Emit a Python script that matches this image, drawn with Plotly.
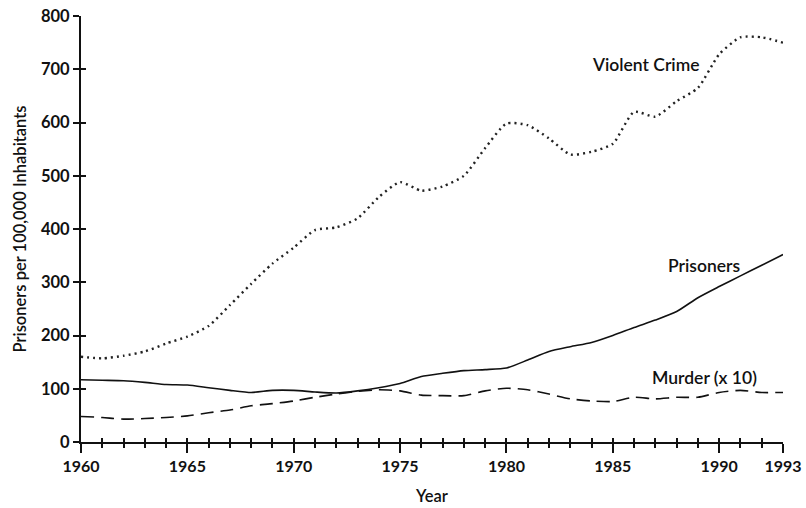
import plotly.graph_objects as go

years = list(range(1960, 1994))
violent_crime = [160, 157, 162, 170, 185, 198, 218, 257, 297, 335, 365, 398, 403, 420, 460, 488,
                 472, 480, 500, 552, 598, 595, 570, 540, 545, 560, 620, 611, 640, 665, 728, 760, 760, 750]
prisoners = [117, 116, 115, 112, 108, 107, 102, 97, 93, 97, 97, 94, 92, 96, 102, 110,
             123, 129, 134, 136, 139, 154, 170, 179, 187, 200, 215, 229, 245, 271, 292, 312, 332, 352]
murder_x10 = [48, 46, 43, 44, 46, 49, 55, 60, 68, 72, 77, 84, 90, 95, 98, 96,
              88, 87, 87, 96, 101, 98, 90, 81, 77, 76, 84, 81, 84, 84, 93, 97, 93, 93]

x_tickvals = [1960, 1965, 1970, 1975, 1980, 1985, 1990, 1993]
y_tickvals = [0, 100, 200, 300, 400, 500, 600, 700, 800]
series_labels = [("Violent Crime", 1989.2, 708, "right"),
                 ("Prisoners", 1989.3, 332, "center"),
                 ("Murder (x 10)", 1989.3, 122, "center")]

FONT = "Lato"
fig = go.Figure()
fig.add_trace(go.Scatter(x=years, y=violent_crime, mode="lines",
                         line=dict(color="#222", width=2.4, dash="2px,4px", shape="spline", smoothing=0.6)))
fig.add_trace(go.Scatter(x=years, y=prisoners, mode="lines",
                         line=dict(color="#111", width=1.6, shape="spline", smoothing=0.6)))
fig.add_trace(go.Scatter(x=years, y=murder_x10, mode="lines",
                         line=dict(color="#111", width=1.6, dash="13px,7px", shape="spline", smoothing=0.6)))
# empty trace to activate overlay axes (for ticks crossing the axis lines)
fig.add_trace(go.Scatter(x=[None], y=[None], xaxis="x2", yaxis="y2", showlegend=False))

for text, x, y, anchor in series_labels:
    fig.add_annotation(x=x, y=y, text=text, showarrow=False, xanchor=anchor, yanchor="middle",
                       font=dict(family=FONT, size=17.5, color="#111", weight=600))

fig.update_layout(
    width=806, height=508,
    margin=dict(l=81, r=23, t=16, b=66, autoexpand=False),
    paper_bgcolor="white", plot_bgcolor="white",
    showlegend=False,
    font=dict(family=FONT, color="#111"),
    xaxis=dict(range=[1960, 1993], tickmode="array", tickvals=x_tickvals, automargin=False,
               ticks="outside", ticklen=9, tickwidth=1.5, tickcolor="#111", ticklabeloverflow="allow",
               minor=dict(ticks="outside", ticklen=4, tickwidth=1.5, tickcolor="#111", dtick=1, tick0=1960),
               showline=True, linecolor="#111", linewidth=2, showgrid=False, zeroline=False,
               tickfont=dict(family=FONT, size=16, weight=700),
               title=dict(text="Year", font=dict(family=FONT, size=16.5, weight=600), standoff=16)),
    yaxis=dict(range=[0, 800], tickmode="array", tickvals=y_tickvals, automargin=False,
               ticks="outside", ticklen=6, tickwidth=1.5, tickcolor="#111", ticklabeloverflow="allow",
               showline=True, linecolor="#111", linewidth=2, showgrid=False, zeroline=False,
               tickfont=dict(family=FONT, size=16.5, weight=700),
               title=dict(text="Prisoners per 100,000 Inhabitants", font=dict(family=FONT, size=16.5, weight=600), standoff=10)),
    xaxis2=dict(overlaying="x", anchor="y", range=[1960, 1993], tickmode="linear", tick0=1960, dtick=1,
                ticks="inside", ticklen=4, tickwidth=1.5, tickcolor="#111", showticklabels=False,
                showgrid=False, zeroline=False, showline=False),
    yaxis2=dict(overlaying="y", anchor="x", range=[0, 800], tickmode="array", tickvals=y_tickvals,
                ticks="inside", ticklen=5, tickwidth=1.5, tickcolor="#111", showticklabels=False,
                showgrid=False, zeroline=False, showline=False),
)

# remove the default 8px page margin so the figure fills the window exactly
fig.write_html("out.html", config={"displayModeBar": False},
               post_script="document.body.style.margin='0';")
